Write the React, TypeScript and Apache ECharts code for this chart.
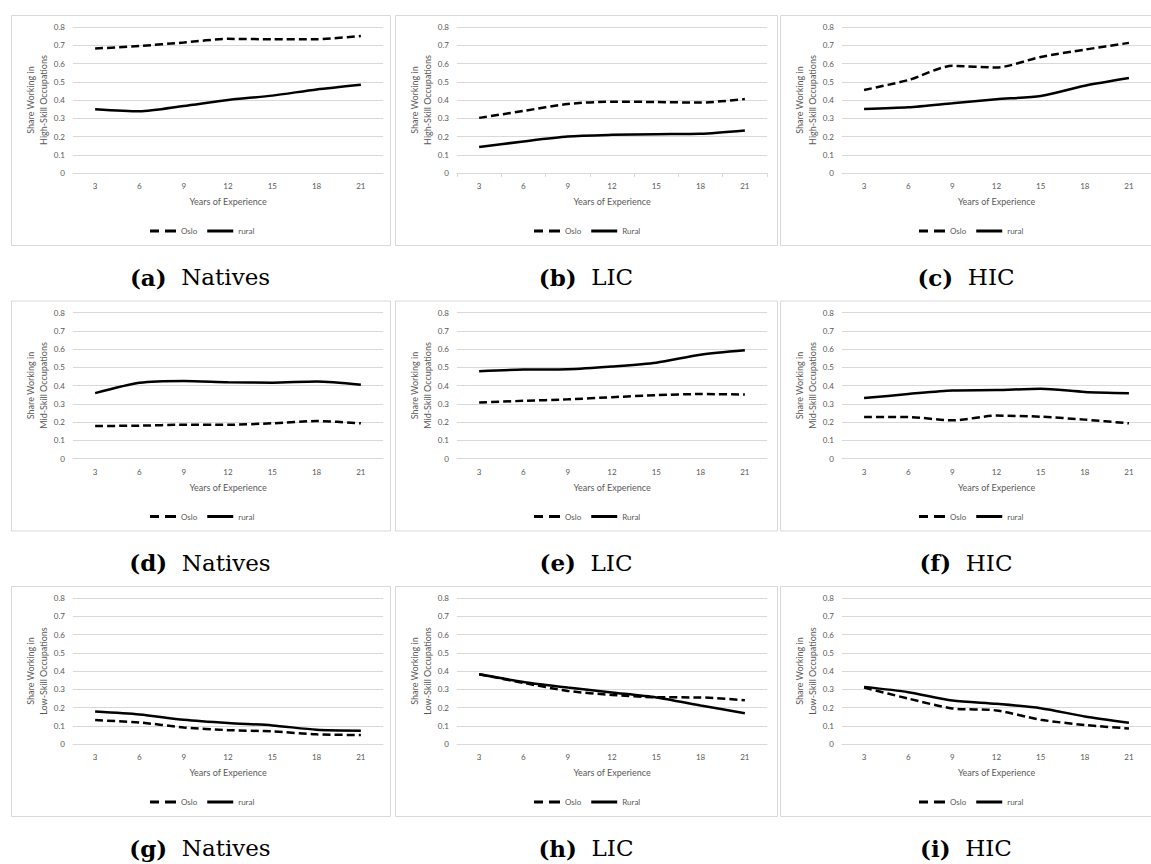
import React, { useEffect, useRef } from "react";
import * as echarts from "echarts";

const categories = ["3", "6", "9", "12", "15", "18", "21"];
const yTicks = [0, 0.1, 0.2, 0.3, 0.4, 0.5, 0.6, 0.7, 0.8];

// Row 1: High-skill
const highNativesOslo = [0.682, 0.696, 0.715, 0.735, 0.733, 0.733, 0.751];
const highNativesRural = [0.349, 0.338, 0.367, 0.4, 0.424, 0.458, 0.484];
const highLicOslo = [0.302, 0.34, 0.378, 0.391, 0.389, 0.386, 0.405];
const highLicRural = [0.142, 0.173, 0.2, 0.209, 0.213, 0.215, 0.233];
const highHicOslo = [0.455, 0.509, 0.587, 0.578, 0.636, 0.676, 0.713];
const highHicRural = [0.351, 0.36, 0.382, 0.404, 0.422, 0.478, 0.52];

// Row 2: Mid-skill
const midNativesOslo = [0.178, 0.18, 0.185, 0.185, 0.193, 0.205, 0.193];
const midNativesRural = [0.358, 0.415, 0.425, 0.418, 0.415, 0.422, 0.404];
const midLicOslo = [0.307, 0.316, 0.324, 0.336, 0.347, 0.353, 0.351];
const midLicRural = [0.478, 0.487, 0.489, 0.504, 0.525, 0.569, 0.593];
const midHicOslo = [0.227, 0.227, 0.209, 0.235, 0.229, 0.213, 0.193];
const midHicRural = [0.331, 0.353, 0.373, 0.375, 0.382, 0.365, 0.358];

// Row 3: Low-skill
const lowNativesOslo = [0.131, 0.118, 0.091, 0.076, 0.069, 0.053, 0.049];
const lowNativesRural = [0.178, 0.162, 0.133, 0.115, 0.102, 0.078, 0.073];
const lowLicOslo = [0.382, 0.335, 0.291, 0.269, 0.256, 0.255, 0.24];
const lowLicRural = [0.382, 0.34, 0.309, 0.282, 0.255, 0.211, 0.169];
const lowHicOslo = [0.309, 0.249, 0.195, 0.184, 0.133, 0.104, 0.085];
const lowHicRural = [0.313, 0.284, 0.238, 0.22, 0.196, 0.151, 0.116];

const rowTitles = [
  "Share Working in\nHigh-Skill Occupations",
  "Share Working in\nMid-Skill Occupations",
  "Share Working in\nLow-Skill Occupations",
];
const captionLetters = ["a", "b", "c", "d", "e", "f", "g", "h", "i"];
const groupNames = ["Natives", "LIC", "HIC"];
const osloName = "Oslo";
const ruralNames = ["rural", "Rural", "rural"];
const xTitle = "Years of Experience";

const panelData = [
  [highNativesOslo, highNativesRural],
  [highLicOslo, highLicRural],
  [highHicOslo, highHicRural],
  [midNativesOslo, midNativesRural],
  [midLicOslo, midLicRural],
  [midHicOslo, midHicRural],
  [lowNativesOslo, lowNativesRural],
  [lowLicOslo, lowLicRural],
  [lowHicOslo, lowHicRural],
];

const panelLefts = [11, 395, 780];
const panelRights = [390, 777, 1160];
const captionCenters = [200, 586, 966];
const rowTop0 = 15;
const rowStep = 285.5;
const panelH = 230;
const TEXT = "#595959";
const GRID = "#d9d9d9";
const FONT = "Lato";

const DASH_ICON = "path://M0,0h9v3h-9z M15,0h11v3h-11z";
const SOLID_ICON = "path://M0,0h26v3h-26z";

function buildOption() {
  const grid: any[] = [];
  const xAxis: any[] = [];
  const yAxis: any[] = [];
  const series: any[] = [];
  const legend: any[] = [];
  const graphic: any[] = [];

  for (let i = 0; i < 9; i++) {
    const r = Math.floor(i / 3);
    const c = i % 3;
    const top = rowTop0 + rowStep * r;
    const left = panelLefts[c];
    const gTop = top + 12;
    const gLeft = left + 62;
    const gH = 146;
    const gW = 310;
    grid.push({ left: gLeft, top: gTop, width: gW, height: gH });
    xAxis.push({
      type: "category",
      gridIndex: i,
      data: categories,
      boundaryGap: true,
      name: xTitle,
      nameLocation: "middle",
      nameGap: 24,
      nameTextStyle: { color: TEXT, fontSize: 9, fontFamily: FONT },
      axisLine: { show: true, lineStyle: { color: GRID, width: 1 } },
      axisTick: { show: i === 1, length: 4, lineStyle: { color: GRID } },
      axisLabel: { color: TEXT, fontSize: 8, fontFamily: FONT, margin: 9 },
      splitLine: { show: false },
    });
    yAxis.push({
      type: "value",
      gridIndex: i,
      min: yTicks[0],
      max: yTicks[yTicks.length - 1],
      interval: 0.1,
      name: rowTitles[r],
      nameLocation: "middle",
      nameGap: 23,
      nameRotate: 90,
      nameTextStyle: { color: TEXT, fontSize: 9, fontFamily: FONT, lineHeight: 13 },
      axisLine: { show: false },
      axisTick: { show: false },
      axisLabel: {
        color: TEXT,
        fontSize: 8,
        fontFamily: FONT,
        margin: 8,
        formatter: (v: number) => (Math.abs(v) < 1e-9 ? "0" : v.toFixed(1)),
      },
      splitLine: { show: true, lineStyle: { color: GRID, width: 1 } },
    });
    const [oslo, rural] = panelData[i];
    series.push({
      type: "line",
      name: osloName,
      xAxisIndex: i,
      yAxisIndex: i,
      data: oslo,
      symbol: "none",
      smooth: 0.25,
      lineStyle: { color: "#000", width: 2.5, type: [8, 4] },
      itemStyle: { color: "#000" },
    });
    series.push({
      type: "line",
      name: ruralNames[c],
      xAxisIndex: i,
      yAxisIndex: i,
      data: rural,
      symbol: "none",
      smooth: 0.25,
      lineStyle: { color: "#000", width: 2.5, type: "solid" },
      itemStyle: { color: "#000" },
    });
    legend.push({
      left: left + 139,
      top: gTop + gH + 54,
      padding: 0,
      data: [
        { name: osloName, icon: DASH_ICON, itemStyle: { color: "#000" } },
        { name: ruralNames[c], icon: SOLID_ICON, itemStyle: { color: "#000" } },
      ],
      itemWidth: 26,
      itemHeight: 14,
      itemGap: 10,
      selectedMode: false,
      textStyle: { color: TEXT, fontSize: 8, fontFamily: FONT },
    });
    graphic.push({
      type: "rect",
      shape: { x: left + 0.5, y: top + 0.5, width: panelRights[c] - left, height: panelH },
      style: { fill: "none", stroke: GRID, lineWidth: 1 },
      silent: true,
      z: -1,
    });
    graphic.push({
      type: "text",
      x: captionCenters[c],
      y: top + 262,
      style: {
        text: `{b|(${captionLetters[i]})}  ${groupNames[c]}`,
        fill: "#000",
        fontFamily: "DejaVu Serif",
        fontSize: 23,
        textAlign: "center",
        textVerticalAlign: "middle",
        rich: {
          b: { fontWeight: "bold", fontFamily: "DejaVu Serif", fontSize: 23, fill: "#000" },
        },
      },
      silent: true,
    });
  }

  return {
    animation: false,
    backgroundColor: "#ffffff",
    grid,
    xAxis,
    yAxis,
    series,
    legend,
    graphic,
  };
}

export default function App() {
  const ref = useRef<HTMLDivElement>(null);
  useEffect(() => {
    if (!ref.current) return;
    const chart = echarts.init(ref.current, undefined, { renderer: "svg" });
    chart.setOption(buildOption() as any);
    return () => chart.dispose();
  }, []);
  return (
    <div
      ref={ref}
      style={{ position: "absolute", left: 0, top: 0, width: 1151, height: 864 }}
    />
  );
}
